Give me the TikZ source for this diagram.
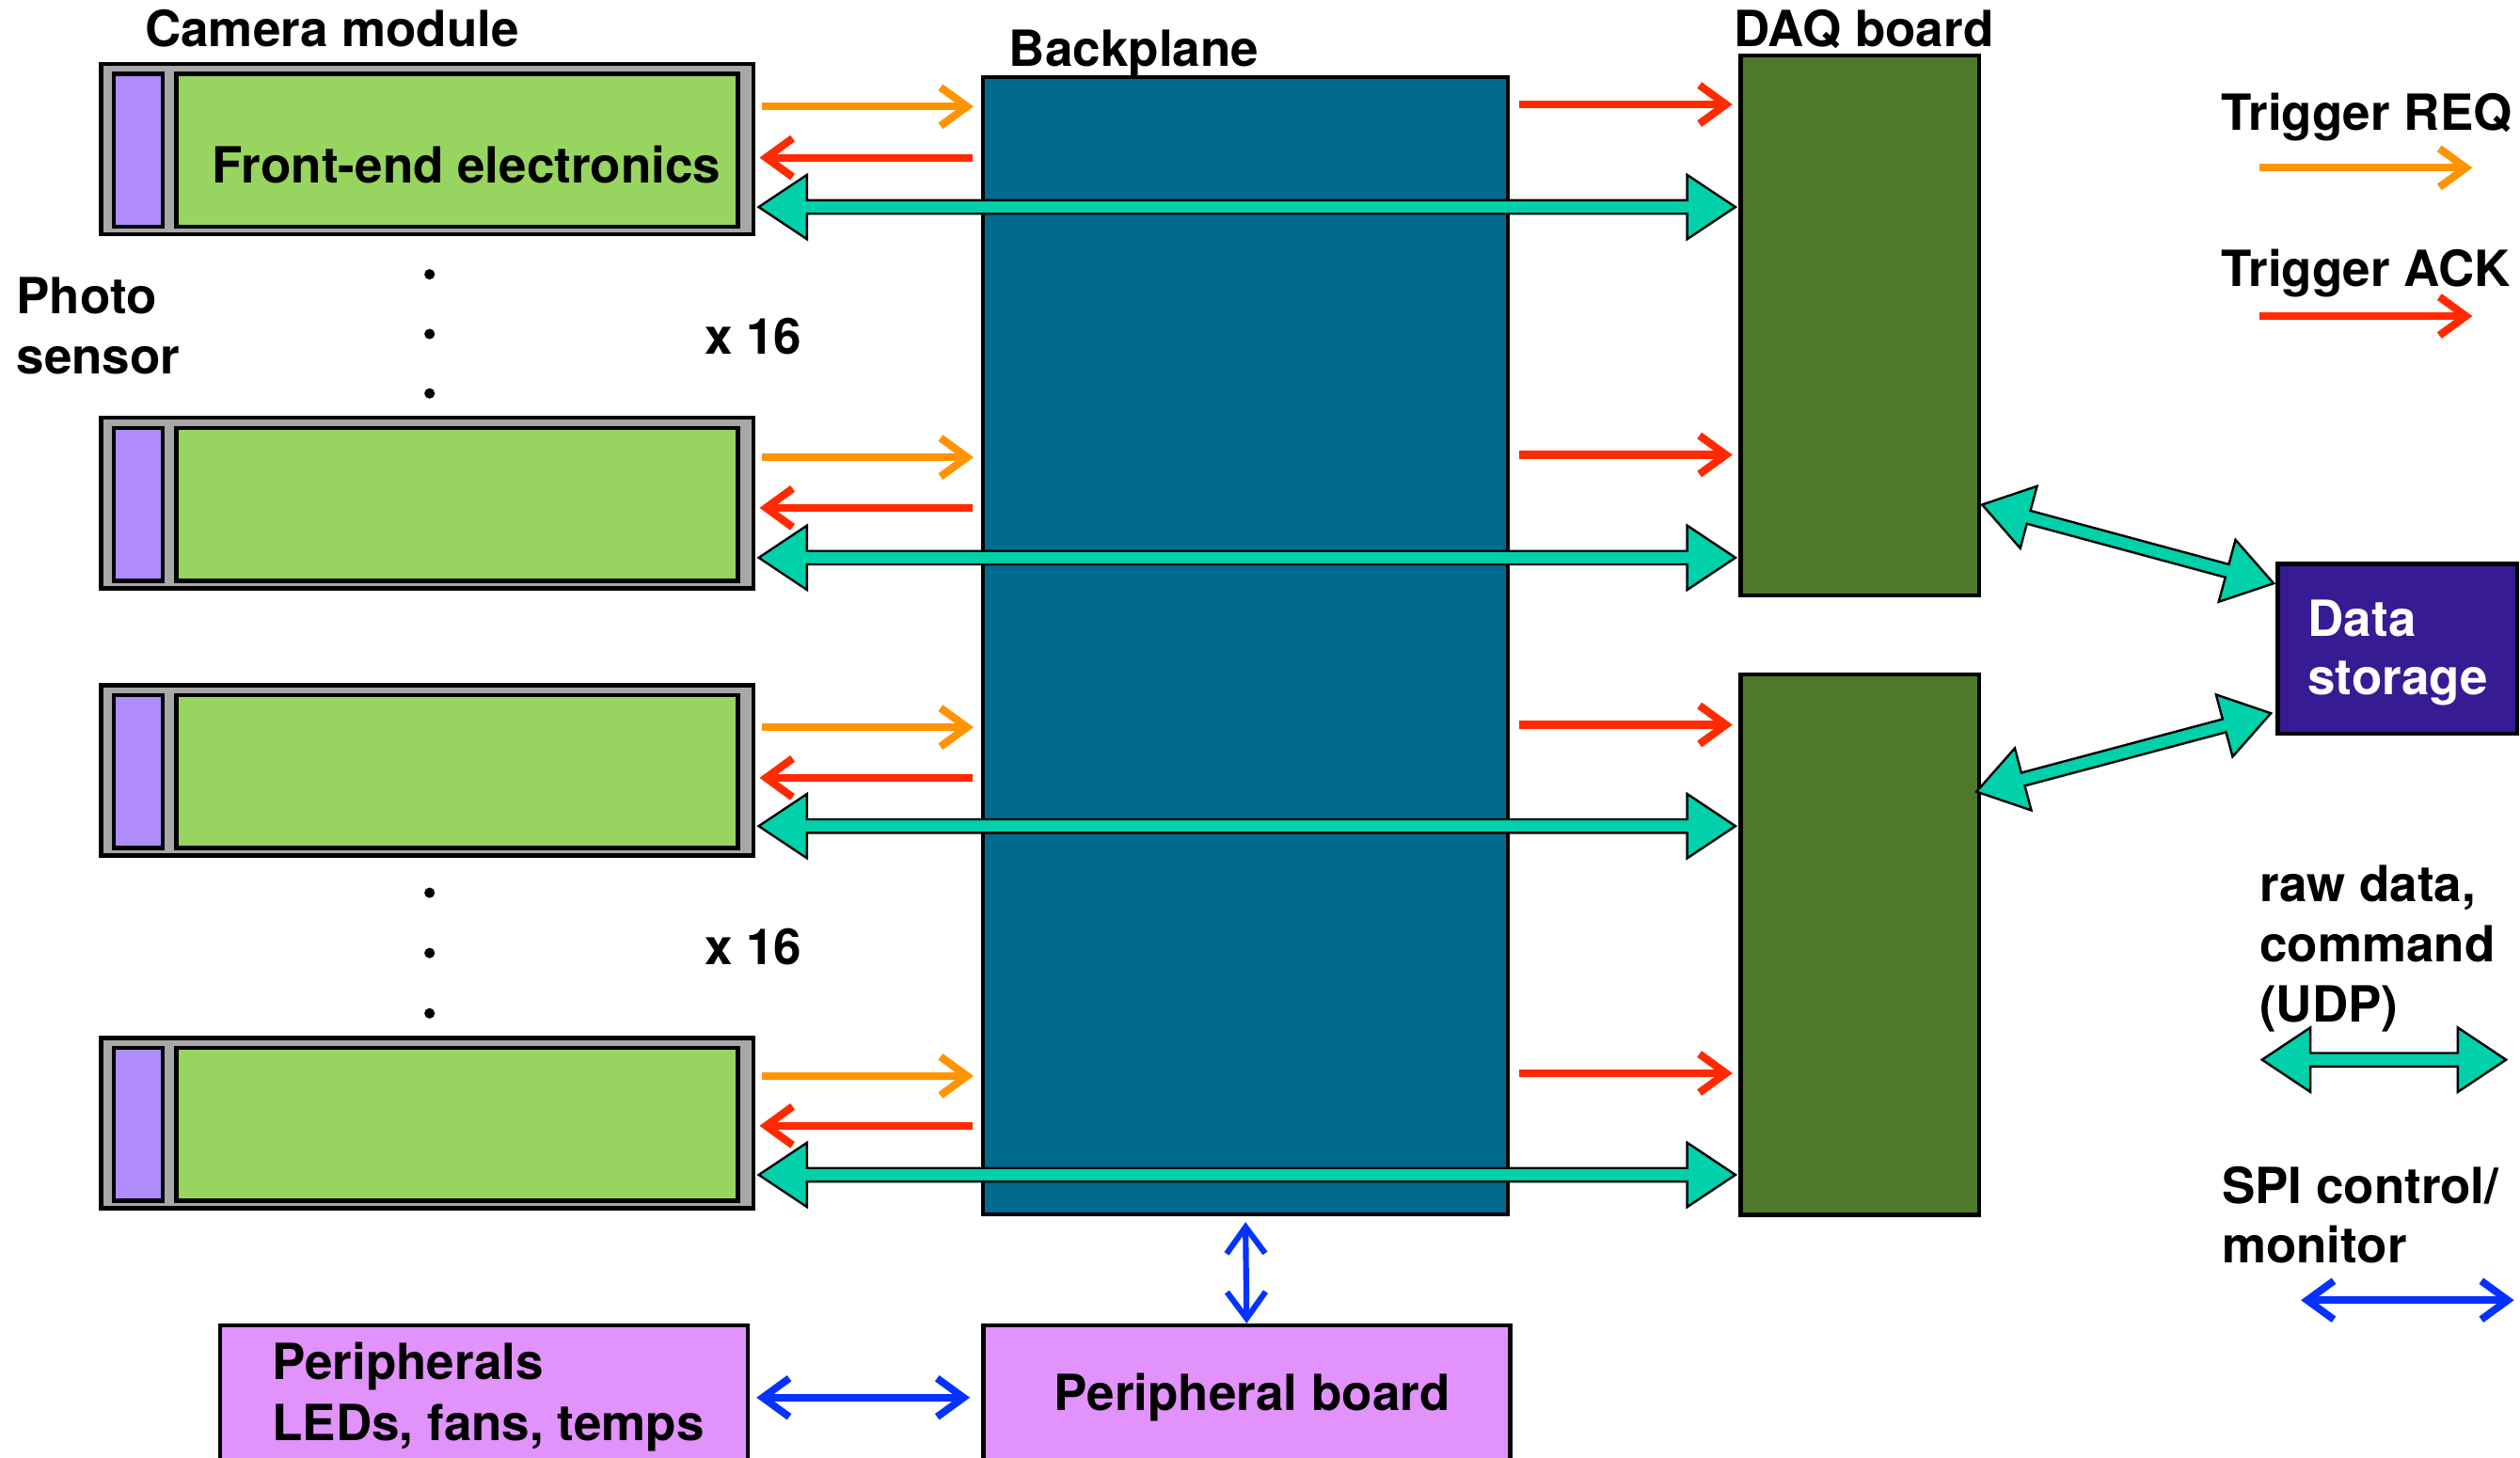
\documentclass[tikz,border=0pt]{standalone}
\usepackage{fontspec}
\setmainfont{TeX Gyre Heros}
\usetikzlibrary{arrows.meta,calc}
\definecolor{modgray}{RGB}{168,168,168}
\definecolor{fegreen}{RGB}{152,212,96}
\definecolor{psviolet}{RGB}{175,139,251}
\definecolor{bpblue}{RGB}{0,107,142}
\definecolor{daqgreen}{RGB}{78,121,42}
\definecolor{dsblue}{RGB}{55,27,147}
\definecolor{perpink}{RGB}{226,146,251}
\definecolor{udpteal}{RGB}{0,209,170}
\definecolor{reqorange}{RGB}{255,148,0}
\definecolor{ackred}{RGB}{255,42,0}
\definecolor{spiblue}{RGB}{5,50,255}
\newcommand\lblfont{\bfseries\fontsize{31}{37.5}\selectfont}
\newcommand\fhl{30pt}
\newcommand\fhw{20pt}
\newcommand\fsw{4.2pt}
\tikzset{
  lbl/.style={font=\lblfont, anchor=base west, inner sep=0pt, outer sep=0pt},
  box/.style={draw=black, line width=2.6pt, anchor=north west, inner sep=0pt},
  modouter/.style={box, fill=modgray, minimum width=406pt, minimum height=106pt},
  psbox/.style={box, fill=psviolet, minimum width=30.5pt, minimum height=95pt},
  febox/.style={box, fill=fegreen, minimum width=349.4pt, minimum height=95pt},
  bpbox/.style={box, fill=bpblue, minimum width=326.7pt, minimum height=707.5pt},
  daqbox/.style={box, fill=daqgreen, minimum width=148.4pt, minimum height=336pt},
  dsbox/.style={box, fill=dsblue, minimum width=149pt, minimum height=105.7pt},
  pbox/.style={box, fill=perpink, minimum height=120pt},
  dot/.style={circle, fill=black, inner sep=0pt, minimum size=6.5pt},
  barb/.tip={Straight Barb[length=16.5pt,width=24pt]},
  req/.style={draw=reqorange, line width=4.8pt, -barb},
  ack/.style={draw=ackred, line width=4.8pt, -barb},
  spi/.style={draw=spiblue, line width=4.6pt, barb-barb},
  fatarr/.style={draw=black, fill=udpteal, line width=1.4pt, line join=miter},
}
\newcommand\fatdbl[2]{%
  \coordinate (fa) at (#1);
  \coordinate (fb) at (#2);
  \path[fatarr] let \p1=($(fb)-(fa)$), \n1={atan2(\y1,\x1)}, \n2={veclen(\x1,\y1)} in
    [shift={(fa)}, rotate=\n1]
    (0pt,0pt) -- (\fhl,\fhw) -- (\fhl,\fsw) -- ({\n2*1pt-\fhl},\fsw) -- ({\n2*1pt-\fhl},\fhw)
    -- ({\n2*1pt},0pt) -- ({\n2*1pt-\fhl},-\fhw) -- ({\n2*1pt-\fhl},-\fsw) -- (\fhl,-\fsw)
    -- (\fhl,-\fhw) -- cycle;
}
\begin{document}
\begin{tikzpicture}[x=1pt,y=-1pt]
\useasboundingbox (0,0) rectangle (1568,907);
\clip (0,0) rectangle (1568,907);

% camera modules
\foreach \i/\t in {1/38.4, 2/258.7, 3/425, 4/644.5} {
  \node[modouter] (m\i) at (61.5,\t) {};
  \node[psbox] (p\i) at (69.5,\t+6.3) {};
  \node[febox] (f\i) at (108.5,\t+6.3) {};
}
\node[lbl] (camlbl) at (90.3,28.9) {Camera module};
\node[lbl] (felbl) at (132.2,114) {Front-end electronics};
\node[lbl] (photo1) at (10.3,195) {Photo};
\node[lbl] (photo2) at (10.3,232.6) {sensor};
\node[lbl] (x16a) at (438.5,220.5) {x 16};
\node[lbl] (x16b) at (438.5,600.5) {x 16};
\foreach \j/\y in {1/170.7, 2/207.8, 3/244.8, 4/555.5, 5/593, 6/630.5}
  \node[dot] (dot\j) at (267.3,\y) {};

% backplane, DAQ boards, storage
\node[bpbox] (bp) at (610.3,46.8) {};
\node[lbl] (bplbl) at (628,41) {Backplane};
\node[daqbox] (d1) at (1081.8,33.2) {};
\node[daqbox] (d2) at (1081.8,418.5) {};
\node[lbl] (daqlbl) at (1079,28.8) {DAQ board};
\node[dsbox] (ds) at (1416,349.6) {};
\node[lbl, text=white] (ds1) at (1436,395.7) {Data};
\node[lbl, text=white] (ds2) at (1436,432) {storage};

% peripherals
\node[pbox, minimum width=328.4pt] (per) at (135.5,823.4) {};
\node[pbox, minimum width=327.8pt] (pb) at (610.5,823.4) {};
\node[lbl] (per1) at (169.5,858.5) {Peripherals};
\node[lbl] (per2) at (169.5,896.5) {LEDs, fans, temps};
\node[lbl] (pblbl) at (656,877.5) {Peripheral board};

% trigger arrows module <-> backplane
\foreach \i/\yo/\yr in {1/66.3/98.1, 2/284.5/316, 3/452.5/484, 4/669.5/700.5} {
  \draw[req, shorten <=3.7pt, shorten >=4.5pt] (m\i.east |- 0,\yo) -- (bp.west |- 0,\yo);
  \draw[ack, shorten <=5.3pt, shorten >=2.5pt] (bp.west |- 0,\yr) -- (m\i.east |- 0,\yr);
}
% trigger ACK backplane -> DAQ
\foreach \d/\y in {d1/65, d1/283, d2/451, d2/667.8}
  \draw[ack, shorten <=5.8pt, shorten >=3.8pt] (bp.east |- 0,\y) -- (\d.west |- 0,\y);

% data arrows module <-> DAQ
\fatdbl{$(m1.east |- 0,128.8)+(2,0)$}{$(d1.west |- 0,128.8)+(-2,0)$}
\fatdbl{$(m2.east |- 0,347)+(2,0)$}{$(d1.west |- 0,347)+(-2,0)$}
\fatdbl{$(m3.east |- 0,514)+(2,0)$}{$(d2.west |- 0,514)+(-2,0)$}
\fatdbl{$(m4.east |- 0,731)+(2,0)$}{$(d2.west |- 0,731)+(-2,0)$}
% DAQ <-> storage
\fatdbl{$(d1.east |- 0,314)+(0.5,0)$}{$(ds.west |- 0,363)+(-1.3,0)$}
\fatdbl{$(d2.east |- 0,492.6)+(-3,0)$}{$(ds.west |- 0,443.8)+(-3,0)$}

% SPI arrows
\draw[spi, line width=3.6pt, shorten <=3.5pt] (bp.south) -- (pb.north);
\draw[spi, shorten <=4.2pt, shorten >=7pt] (per.east |- 0,869.6) -- (pb.west |- 0,869.6);

% legend
\node[lbl] (lreq) at (1382.3,81) {Trigger REQ};
\coordinate (lreqa) at (1405.7,104.4);
\coordinate (lreqb) at (1538.4,104.4);
\draw[req] (lreqa) -- (lreqb);
\node[lbl] (lack) at (1382.3,178.5) {Trigger ACK};
\coordinate (lacka) at (1405.7,196.7);
\coordinate (lackb) at (1538.4,196.7);
\draw[ack] (lacka) -- (lackb);
\node[lbl] (lraw1) at (1406,561) {raw data,};
\node[lbl] (lraw2) at (1406,598.5) {command};
\node[lbl] (lraw3) at (1406,636) {(UDP)};
\coordinate (ludpa) at (1407.5,659.4);
\coordinate (ludpb) at (1559.3,659.4);
\fatdbl{ludpa}{ludpb}
\node[lbl] (lspi1) at (1382.5,749) {SPI control/};
\node[lbl] (lspi2) at (1382.5,785.5) {monitor};
\coordinate (lspia) at (1431.7,809);
\coordinate (lspib) at (1564.3,809);
\draw[spi] (lspia) -- (lspib);
\end{tikzpicture}
\end{document}
